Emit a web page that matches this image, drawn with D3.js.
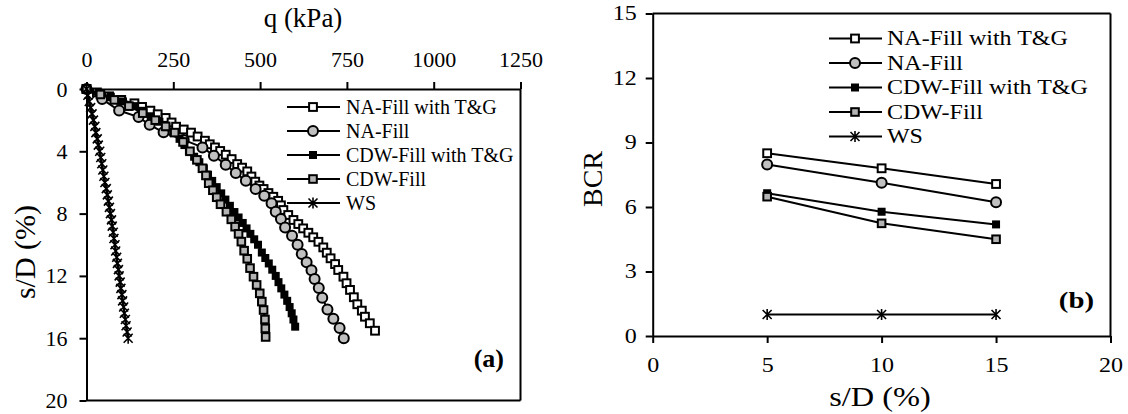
<!DOCTYPE html>
<html><head><meta charset="utf-8">
<script src="https://cdn.jsdelivr.net/npm/d3@7"></script>
<style>body{margin:0;background:#fff} text{font-family:'Liberation Serif','Times New Roman',serif}</style>
</head><body>
<script>
// ---------- DATA ----------
// Panel (a): [q (kPa), s/D (%)]
const naFillTG = [[0,0],[30,0.22],[65,0.47],[100,0.7],[138,0.92],[160,1.15],[184,1.39],[205,1.62],[228,1.86],[245,2.15],[258,2.42],[280,2.6],[301,2.8],[320,3.05],[341,3.32],[355,3.55],[370,3.75],[385,3.98],[401,4.22],[418,4.5],[434,4.82],[448,5.05],[463,5.29],[475,5.62],[486,5.95],[498,6.2],[510,6.42],[524,6.68],[538,6.92],[552,7.18],[560,7.47],[567,7.77],[581,8.09],[596,8.41],[610,8.67],[624,8.95],[639,9.23],[653,9.52],[668,9.81],[682,10.17],[692,10.51],[703,10.87],[716,11.24],[725,11.62],[740,12.05],[749,12.47],[759,12.9],[770,13.37],[780,13.82],[793,14.23],[802,14.62],[816,15.04],[831,15.52]];
const naFill = [[0,0],[45,0.65],[94,1.38],[150,1.8],[182,2.3],[222,2.78],[280,3.27],[334,3.75],[367,4.28],[401,4.86],[430,5.4],[459,5.89],[487,6.42],[512,6.85],[533,7.34],[545,7.88],[560,8.35],[572,8.89],[592,9.42],[608,10.0],[620,10.6],[634,11.13],[648,11.63],[657,12.2],[669,12.78],[679,13.4],[694,14.15],[711,14.75],[729,15.35],[741,16.0]];
const cdwFillTG = [[0,0],[35,0.25],[70,0.5],[105,0.8],[135,1.1],[160,1.4],[185,1.75],[210,2.1],[230,2.45],[250,2.8],[268,3.2],[282,3.6],[295,4.0],[310,4.35],[325,4.7],[338,5.1],[350,5.5],[362,5.9],[375,6.3],[388,6.7],[400,7.1],[413,7.5],[426,7.9],[438,8.25],[450,8.6],[461,8.95],[472,9.3],[483,9.65],[494,10.0],[505,10.5],[515,10.85],[525,11.2],[535,11.6],[545,12.0],[553,12.4],[561,12.8],[570,13.2],[578,13.6],[585,14.0],[591,14.4],[596,14.8],[601,15.26]];
const cdwFill = [[0,0],[40,0.35],[80,0.7],[122,1.1],[162,1.55],[198,2.0],[228,2.4],[254,2.8],[278,3.4],[298,4.0],[318,4.55],[334,5.09],[344,5.55],[352,6.05],[364,6.5],[375,6.95],[386,7.4],[403,7.88],[417,8.37],[428,8.84],[438,9.3],[446,9.8],[454,10.38],[463,10.9],[471,11.5],[481,12.05],[490,12.58],[499,13.12],[505,13.65],[510,14.19],[514,14.8],[515,15.37],[516,15.92]];
const wsCurve = [[0,0],[4,0.4],[8,0.8],[12,1.2],[16,1.6],[20,2.0],[24,2.4],[27,2.8],[31,3.2],[34,3.6],[38,4.0],[41,4.4],[44,4.8],[47,5.2],[50,5.6],[53,6.0],[57,6.4],[60,6.8],[63,7.2],[66,7.6],[69,8.0],[72,8.4],[74,8.8],[77,9.2],[79,9.6],[82,10.0],[84,10.4],[87,10.8],[89,11.2],[92,11.6],[94,12.0],[97,12.4],[99,12.8],[102,13.2],[104,13.6],[107,14.0],[109,14.4],[112,14.8],[114,15.2],[117,15.6],[120,16.0]];
const qTicks = [0,250,500,750,1000,1250];
const sTicksA = [0,4,8,12,16,20];

// Panel (b)
const sdLevels = [5,10,15];
const bcrNATG = [8.50,7.80,7.07];
const bcrNA = [7.98,7.13,6.22];
const bcrCDWTG = [6.64,5.78,5.19];
const bcrCDW = [6.48,5.24,4.50];
const bcrWS = [1,1,1];
const sdTicks = [0,5,10,15,20];
const bcrTicks = [0,3,6,9,12,15];

const seriesNames = ["NA-Fill with T&G","NA-Fill","CDW-Fill with T&G","CDW-Fill","WS"];
const markerTypes = ["openSq","circle","blackSq","graySq","star"];

// ---------- DRAW ----------
const FONT = "'Liberation Serif','Times New Roman',serif";
const svg = d3.select('body').append('svg').attr('width',1128).attr('height',414)
  .style('font-family',FONT);
svg.append('rect').attr('width',1128).attr('height',414).attr('fill','#fff');

function drawMarker(g, type, x, y){
  if(type==='openSq') g.append('rect').attr('x',x-3.9).attr('y',y-3.9).attr('width',7.8).attr('height',7.8).attr('fill','#fff').attr('stroke','#000').attr('stroke-width',2);
  else if(type==='circle') g.append('circle').attr('cx',x).attr('cy',y).attr('r',5).attr('fill','#c0c0c0').attr('stroke','#000').attr('stroke-width',2);
  else if(type==='blackSq') g.append('rect').attr('x',x-4).attr('y',y-4).attr('width',8).attr('height',8).attr('fill','#000');
  else if(type==='graySq') g.append('rect').attr('x',x-3.8).attr('y',y-3.8).attr('width',7.6).attr('height',7.6).attr('fill','#b4b4b4').attr('stroke','#000').attr('stroke-width',2);
  else if(type==='star') g.append('path').attr('d',`M${x-4.5},${y-4.5}L${x+4.5},${y+4.5}M${x-4.5},${y+4.5}L${x+4.5},${y-4.5}M${x},${y-5.5}V${y+5.5}`).attr('stroke','#000').attr('stroke-width',1.6).attr('fill','none');
}
function styleAxis(g,size){
  g.attr('font-family',FONT).attr('font-size',size);
  g.selectAll('path,line').attr('stroke','#000').attr('stroke-width',2);
  g.selectAll('text').attr('font-size',size).attr('fill','#000');
}
function stretch(sel,k){
  sel.each(function(){const t=d3.select(this);const x=+t.attr('x')||0;t.attr('x',x/k).attr('transform',`scale(${k},1)`);});
}
const fmt = d3.format('d');

// ===== Panel (a) =====
const xL = d3.scaleLinear().domain([0,1250]).range([86.5,520.5]);
const yL = d3.scaleLinear().domain([0,20]).range([89,400.5]);
const gA = svg.append('g');
const axT = gA.append('g').attr('transform',`translate(0,${yL(0)})`)
  .call(d3.axisTop(xL).tickValues(qTicks).tickFormat(fmt).tickSize(7).tickSizeOuter(0).tickPadding(15));
styleAxis(axT,22);
const axLf = gA.append('g').attr('transform',`translate(${xL(0)},0)`)
  .call(d3.axisLeft(yL).tickValues(sTicksA).tickFormat(fmt).tickSize(7).tickSizeOuter(0).tickPadding(12));
styleAxis(axLf,22);
gA.append('line').attr('x1',xL(1250)).attr('x2',xL(1250)).attr('y1',yL(0)).attr('y2',yL(20)).attr('stroke','#000').attr('stroke-width',2);
gA.append('line').attr('x1',xL(0)).attr('x2',xL(1250)).attr('y1',yL(20)).attr('y2',yL(20)).attr('stroke','#000').attr('stroke-width',2);

const curvesA = [naFillTG,naFill,cdwFillTG,cdwFill,wsCurve];
const lineA = d3.line().x(d=>xL(d[0])).y(d=>yL(d[1]));
curvesA.forEach((c,i)=>{
  const g = gA.append('g');
  g.append('path').attr('d',lineA(c)).attr('fill','none').attr('stroke','#000').attr('stroke-width',2);
  c.forEach(d=>drawMarker(g,markerTypes[i],xL(d[0]),yL(d[1])));
});
gA.append('text').attr('x',303).attr('y',27).attr('text-anchor','middle').attr('font-size',27).text('q (kPa)');
gA.append('text').attr('transform','translate(35,252) rotate(-90)').attr('text-anchor','middle').attr('font-size',30).text('s/D (%)');
gA.append('text').attr('x',504).attr('y',367).attr('text-anchor','end').attr('font-size',26).attr('font-weight','bold').text('(a)');
// legend (a)
seriesNames.forEach((n,i)=>{
  const y = 107 + i*24;
  const g = gA.append('g');
  g.append('line').attr('x1',287).attr('x2',340).attr('y1',y).attr('y2',y).attr('stroke','#000').attr('stroke-width',2);
  drawMarker(g,markerTypes[i],313,y);
  g.append('text').attr('x',346).attr('y',y).attr('dy','0.35em').attr('font-size',20).text(n);
});

// ===== Panel (b) =====
const K = 1.2;
const xR = d3.scaleLinear().domain([0,20]).range([652.7,1110.5]);
const yR = d3.scaleLinear().domain([0,15]).range([336,13.5]);
const gB = svg.append('g');
const axB = gB.append('g').attr('transform',`translate(0,${yR(0)})`)
  .call(d3.axisBottom(xR).tickValues(sdTicks).tickFormat(fmt).tickSize(7).tickSizeOuter(0).tickPadding(15));
styleAxis(axB,20); stretch(axB.selectAll('text'),K);
const axBL = gB.append('g').attr('transform',`translate(${xR(0)},0)`)
  .call(d3.axisLeft(yR).tickValues(bcrTicks).tickFormat(fmt).tickSize(7).tickSizeOuter(0).tickPadding(9));
styleAxis(axBL,20); stretch(axBL.selectAll('text'),K);
gB.append('line').attr('x1',xR(20)).attr('x2',xR(20)).attr('y1',yR(0)).attr('y2',yR(15)).attr('stroke','#000').attr('stroke-width',2);
gB.append('line').attr('x1',xR(0)).attr('x2',xR(20)).attr('y1',yR(15)).attr('y2',yR(15)).attr('stroke','#000').attr('stroke-width',2);

const valsB = [bcrNATG,bcrNA,bcrCDWTG,bcrCDW,bcrWS];
const lineB = d3.line().x(d=>xR(d[0])).y(d=>yR(d[1]));
valsB.forEach((v,i)=>{
  const pts = sdLevels.map((s,j)=>[s,v[j]]);
  const g = gB.append('g');
  g.append('path').attr('d',lineB(pts)).attr('fill','none').attr('stroke','#000').attr('stroke-width',2);
  pts.forEach(d=>drawMarker(g,markerTypes[i],xR(d[0]),yR(d[1])));
});
gB.append('text').attr('transform',`translate(880,406) scale(${K},1)`).attr('text-anchor','middle').attr('font-size',27).text('s/D (%)');
gB.append('text').attr('transform',`translate(602,179) rotate(-90)`).attr('text-anchor','middle').attr('font-size',28).text('BCR');
const tb = gB.append('text').attr('x',1094).attr('y',308).attr('text-anchor','end').attr('font-size',24).attr('font-weight','bold').text('(b)');
stretch(tb,K);
seriesNames.forEach((n,i)=>{
  const y = 38.5 + i*24.5;
  const g = gB.append('g');
  g.append('line').attr('x1',829).attr('x2',882).attr('y1',y).attr('y2',y).attr('stroke','#000').attr('stroke-width',2);
  drawMarker(g,markerTypes[i],855,y);
  const t = g.append('text').attr('x',887).attr('y',y).attr('dy','0.35em').attr('font-size',20).text(n);
  stretch(t,K);
});
svg.selectAll('text').attr('font-family',FONT);
</script>
</body></html>
